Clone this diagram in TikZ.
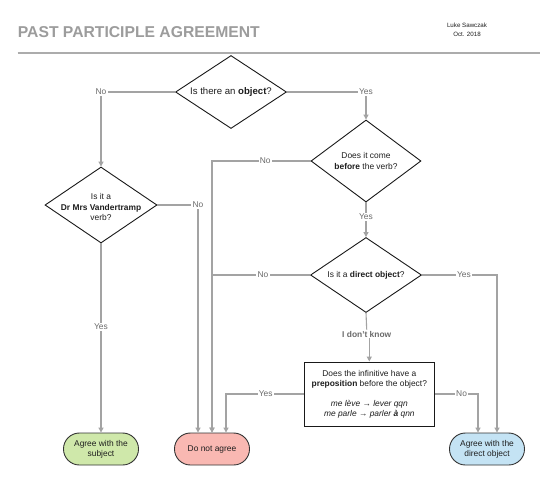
\documentclass[tikz,border=0pt]{standalone}
\usepackage{fontspec}
\setmainfont{Liberation Sans}
\usetikzlibrary{shapes.geometric,arrows.meta}
\definecolor{conncol}{HTML}{A3A3A3}
\definecolor{lblcol}{HTML}{6A6A6A}
\definecolor{titlecol}{HTML}{9C9C9C}
\definecolor{greenfill}{HTML}{CFE8AA}
\definecolor{redfill}{HTML}{F9B8B2}
\definecolor{bluefill}{HTML}{C4E3F4}
\definecolor{txt}{HTML}{1E1E1E}
\tikzset{
  basefont/.style={font=\fontsize{8.4}{10.2}\selectfont},
  decision/.style={diamond, draw=black!90, line width=0.9pt, fill=white, inner sep=0pt, aspect=1},
  dtext/.style={align=center, text=txt, inner sep=0pt, basefont},
  terminal/.style={rectangle, rounded corners=15.9pt, draw=black!80, line width=0.9pt, minimum width=75pt, minimum height=32pt, inner sep=0pt, align=center, text=txt, basefont},
  question/.style={rectangle, draw=black!90, line width=0.9pt, fill=white, minimum width=130pt, minimum height=64pt, inner sep=0pt, align=center, text=txt, basefont},
  conn/.style={draw=conncol, line width=1.1pt, -{Triangle[length=5pt,width=5pt]}},
  plainconn/.style={draw=conncol, line width=1.1pt},
  lbl/.style={fill=white, inner sep=1.2pt, text=lblcol, basefont},
}
\begin{document}
\begin{tikzpicture}[x=1pt,y=-1pt]
\useasboundingbox (0,0) rectangle (540,485);
\fill[white] (0,0) rectangle (540,485);

% header
\node[anchor=base west, text=titlecol, font=\fontsize{15.7}{18}\selectfont\bfseries, inner sep=0pt] (title) at (17.7,37.3) {PAST PARTICIPLE AGREEMENT};
\node[align=center, text=txt, font=\fontsize{6.2}{9.4}\selectfont, inner sep=0pt] (author) at (467,29.5) {Luke Sawczak\\Oct. 2018};
\coordinate (rulea) at (17.7,53);
\coordinate (ruleb) at (540,53);
\draw[draw=conncol!90, line width=1.3pt] (rulea) -- (ruleb);

% decisions
\node[decision, minimum width=111pt, minimum height=73pt] (d1) at (231,92) {};
\node[dtext, font=\fontsize{9.6}{11}\selectfont] (d1t) at (d1) {Is there an \textbf{object}?};
\node[decision, minimum width=110pt, minimum height=82pt] (d2) at (366,161) {};
\node[dtext] (d2t) at (d2) {Does it come\\\textbf{before} the verb?};
\node[decision, minimum width=111pt, minimum height=75pt] (d3) at (366,275) {};
\node[dtext] (d3t) at (d3) {Is it a \textbf{direct object}?};
\node[decision, minimum width=112pt, minimum height=76pt] (dr) at (101,205) {};
\node[dtext] (drt) at (101,207) {Is it a\\\textbf{Dr Mrs Vandertramp}\\verb?};
\node[question] (box) at (369.3,394) {Does the infinitive have a\\\textbf{preposition} before the object?\\[9.5pt]\textit{me lève} → \textit{lever qqn}\\\textit{me parle} → \textit{parler \textbf{à} qnn}};

\node[terminal, fill=greenfill] (ags) at (101,449) {Agree with the\\subject};
\node[terminal, fill=redfill] (dna) at (212,449) {Do not agree};
\node[terminal, fill=bluefill] (adob) at (487,449) {Agree with the\\direct object};

% connectors
\draw[conn] (d1.west) -| node[lbl, pos=0.5] {No} (dr.north);
\draw[conn] (d1.east) -| node[lbl, pos=0.5] {Yes} (d2.north);
\draw[conn] (d2.south) -- node[lbl, pos=0.41] {Yes} (d3.north);
\draw[conn] (d2.west) -| node[lbl, pos=0.23] {No} (dna.north);
\draw[conn] (d3.west) -| node[lbl, pos=0.24] {No} (dna.north);
\draw[conn] (d3.east) -| node[lbl, pos=0.28] {Yes} ([xshift=10pt]adob.north);
\draw[conn] (dr.east) -| node[lbl, pos=0.5] {No} ([xshift=-14pt]dna.north);
\draw[conn] (dr.south) -- node[lbl, pos=0.44] {Yes} (ags.north);
\node[lbl, font=\fontsize{8.4}{10.2}\selectfont\bfseries] (idk) at (366.7,334) {I don't know};
\draw[plainconn] (d3.south) -- (idk.north);
\draw[conn] (idk.south -| box.north) -- (box.north);
\draw[conn] (box.west) -| node[lbl, pos=0.245] {Yes} ([xshift=14pt]dna.north);
\draw[conn] (box.east) -| node[lbl, pos=0.31] {No} ([xshift=-9pt]adob.north);
\end{tikzpicture}
\end{document}
